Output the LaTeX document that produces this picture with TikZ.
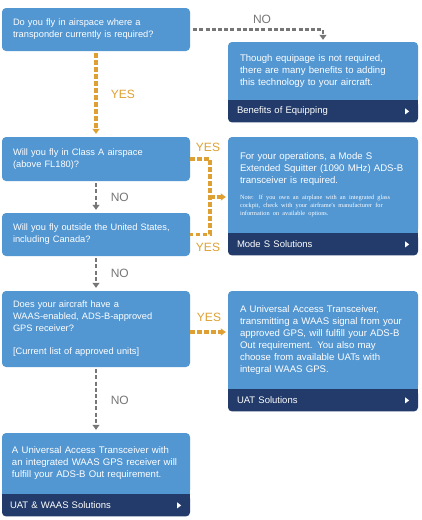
\documentclass[tikz,border=0pt]{standalone}
\usepackage{fontspec}
\setmainfont{Liberation Sans}
\newfontfamily\notefont{Liberation Serif}
\usetikzlibrary{positioning,arrows.meta}
\definecolor{boxblue}{RGB}{82,150,210}
\definecolor{barnavy}{RGB}{34,59,106}
\definecolor{yesorange}{RGB}{222,160,50}
\definecolor{nogray}{RGB}{118,118,118}

\begin{document}
\begin{tikzpicture}[x=1pt, y=-1pt, >={Triangle[width=7pt,length=5pt]},
    question/.style={fill=boxblue, rounded corners=4pt, text=white, minimum width=188pt,
      text width=166pt, inner xsep=11pt, align=left, font=\fontsize{9.3}{12}\selectfont},
    answer/.style={fill=boxblue, rounded corners=4pt, text=white, minimum width=190pt,
      text width=166pt, inner xsep=12pt, align=left, font=\fontsize{9.6}{12}\selectfont},
    titlebar/.style={fill=barnavy, rounded corners=4pt, text=white, minimum width=190pt,
      minimum height=22pt, text width=172pt, inner xsep=9pt, align=left,
      font=\fontsize{9.5}{12}\selectfont},
    yesline/.style={yesorange, line width=3.2pt, dash pattern=on 4.5pt off 2.5pt},
    noline/.style={nogray, line width=2.9pt, dash pattern=on 4pt off 2.2pt},
    yeslabel/.style={text=yesorange, font=\fontsize{12}{14}\selectfont},
    nolabel/.style={text=nogray, font=\fontsize{12}{14}\selectfont}]
    \useasboundingbox (0,0) rectangle (422,520);

    % Preguntas de la columna izquierda
    \node[question, minimum height=43pt] (q1) at (96,29.5) {Do you fly in airspace where a\\transponder currently is required?};
    \node[question, minimum height=44pt] (q2) at (96,159) {Will you fly in Class A airspace\\(above FL180)?};
    \node[question, minimum height=43pt] (q3) at (96,234.5) {Will you fly outside the United States,\\including Canada?};
    \node[question, minimum height=76pt] (q4) at (96,329) {Does your aircraft have a\\WAAS-enabled, ADS-B-approved\\GPS receiver?\\[11pt]{}[Current list of approved units]};

    % Respuestas con su barra de enlace
    \node[answer, minimum height=58pt] (benefit) at (323,71) {Though equipage is not required,\\there are many benefits to adding\\this technology to your aircraft.};
    \node[titlebar, below=0pt of benefit] (benefit-bar) {Benefits of Equipping};

    \node[answer, minimum height=96pt] (modes) at (323,185) {For your operations, a Mode S\\Extended Squitter (1090 MHz) ADS-B\\transceiver is required.\par
      \vspace{8pt}
      {\notefont\fontsize{6.3}{8}\selectfont Note: If you own an airplane with an integrated glass\\cockpit, check with your airframe's manufacturer for\\information on available options.\par}};
    \node[titlebar, below=0pt of modes] (modes-bar) {Mode S Solutions};

    \node[answer, minimum height=98pt] (uat) at (323,340) {A Universal Access Transceiver,\\transmitting a WAAS signal from your\\approved GPS, will fulfill your ADS-B\\Out requirement. You also may\\choose from available UATs with\\integral WAAS GPS.};
    \node[titlebar, below=0pt of uat] (uat-bar) {UAT Solutions};

    \node[answer, minimum width=188pt, text width=168pt, inner xsep=10pt, minimum height=61pt] (waas) at (96,463.5) {A Universal Access Transceiver with\\an integrated WAAS GPS receiver will\\fulfill your ADS-B Out requirement.};
    \node[titlebar, minimum width=188pt, text width=172pt, inner xsep=8pt, below=0pt of waas] (waas-bar) {UAT \& WAAS Solutions};

    % Union recta entre caja y barra, y flecha blanca
    \foreach \b in {benefit, modes, uat, waas} {
      \fill[boxblue] ([yshift=5pt]\b.south west) rectangle (\b.south east);
      \fill[barnavy] (\b-bar.north west) rectangle ([yshift=-5pt]\b-bar.north east);
      \fill[white] ([xshift=-13pt,yshift=3pt]\b-bar.east) -- ++(4pt,-3pt) -- ++(-4pt,-3pt) -- cycle;
    }

    % Conectores SI / NO
    \coordinate (yes join) at (210,197);
    \draw[noline, ->, shorten <=3pt, shorten >=2pt] (q1.east) -| (benefit.north);
    \node[nolabel] (no1) at (262,19) {NO};
    \draw[yesline, ->, shorten <=2pt, shorten >=3pt] (q1.south) -- node[yeslabel, right=10pt] (yes1) {YES} (q2.north);
    \draw[noline, ->, shorten <=2pt, shorten >=3pt] (q2.south) -- node[nolabel, right=10pt] (no2) {NO} (q3.north);
    \draw[yesline] (q2.east) -| (yes join) |- (q3.east);
    \draw[yesline, ->, shorten >=2pt] (yes join) -- (yes join -| modes.west);
    \node[yeslabel] (yes2) at (208,147) {YES};
    \node[yeslabel] (yes3) at (208,247) {YES};
    \draw[noline, ->, shorten <=2pt, shorten >=3pt] (q3.south) -- node[nolabel, right=10pt] (no3) {NO} (q4.north);
    \draw[yesline, ->, shorten >=2pt] ([yshift=-3pt]q4.east) -- node[yeslabel, above=5pt] (yes4) {YES} ([yshift=-3pt]q4.east -| uat.west);
    \draw[noline, ->, shorten <=2pt, shorten >=3pt] (q4.south) -- node[nolabel, right=10pt] (no4) {NO} (waas.north);
\end{tikzpicture}
\end{document}
